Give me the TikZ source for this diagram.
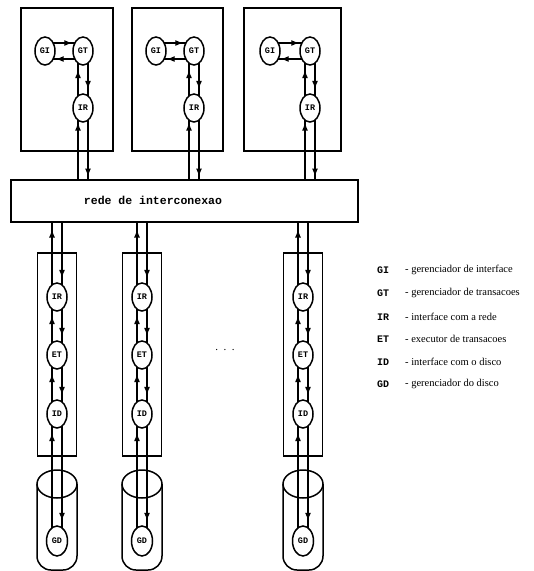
\documentclass[tikz,border=0pt]{standalone}
\usepackage{fontspec}
\setmainfont{Liberation Serif}
\setmonofont{Liberation Mono}
\usetikzlibrary{shapes.geometric,arrows.meta,decorations.markings,calc}

\begin{document}
\begin{tikzpicture}[x=1pt,y=-1pt,
  proc/.style={ellipse,draw,line width=1.5pt,minimum width=20pt,minimum height=28pt,inner sep=0pt,
    font=\ttfamily\bfseries\fontsize{8.5}{8.5}\selectfont},
  disk/.style={proc,minimum width=21pt,minimum height=30pt},
  frame/.style={draw,line width=1.5pt,rectangle,inner sep=0pt},
  link/.style={line width=1.3pt,postaction={decorate},
    decoration={markings,mark=at position -7pt with {\arrow{Latex[length=8pt,width=6pt]}}}},
  hlink/.style={line width=1.3pt,postaction={decorate},
    decoration={markings,mark=at position -2.5pt with {\arrow{Latex[length=8pt,width=6pt]}}}},
  abbr/.style={anchor=west,inner sep=0pt,font=\ttfamily\bfseries\fontsize{10}{10}\selectfont},
  desc/.style={anchor=west,inner sep=0pt,font=\rmfamily\fontsize{10.5}{10.5}\selectfont},
]
\useasboundingbox (0,0) rectangle (534,571);

% network
\node[frame,anchor=north west,minimum width=347pt,minimum height=42pt] (net) at (10,179) {};
\node[inner sep=0pt,font=\ttfamily\bfseries\fontsize{11.5}{12}\selectfont] (nettext) at (153,200) {rede de interconexao};

% top processor boxes
\foreach \l/\w/\gi/\gt [count=\k] in {20/92/45/83, 131/91/156/194, 243/97/270/310} {
  \node[frame,anchor=north west,minimum width=\w pt,minimum height=143pt] (box\k) at (\l,7) {};
  \node[proc] (gi\k) at (\gi,51) {GI};
  \node[proc] (gt\k) at (\gt,51) {GT};
  \node[proc] (ir\k) at (\gt,108) {IR};
  \draw[hlink] ($(gi\k)+(8.2,-8)$) -- ($(gt\k)+(-8.2,-8)$);
  \draw[hlink] ($(gt\k)+(-8.2,8)$) -- ($(gi\k)+(8.2,8)$);
  \draw[link] ($(ir\k)+(-5,-12.1)$) -- ($(gt\k)+(-5,12.1)$);
  \draw[link] ($(gt\k)+(5,12.1)$) -- ($(ir\k)+(5,-12.1)$);
  \coordinate (irl\k) at ($(ir\k)+(-5,12.1)$);
  \coordinate (irr\k) at ($(ir\k)+(5,12.1)$);
  \draw[hlink] (irl\k |- net.north) -- (irl\k);
  \draw[hlink] (irr\k) -- (irr\k |- net.north);
}

% disk columns
\foreach \cx [count=\k] in {57,142,303} {
  \node[frame,anchor=north,minimum width=39pt,minimum height=203pt] (col\k) at (\cx,252) {};
  \node[proc] (cir\k) at (\cx,297) {IR};
  \node[proc] (cet\k) at (\cx,355) {ET};
  \node[proc] (cid\k) at (\cx,414) {ID};
  \node[disk] (cgd\k) at (\cx,541) {GD};
  % cylinder
  \draw[line width=1.5pt,rounded corners=14pt] (\cx-20,484) -- (\cx-20,570) -- (\cx+20,570) -- (\cx+20,484);
  \draw[line width=1.5pt] (\cx,484) ellipse [x radius=20pt,y radius=14pt];
  % links
  \coordinate (cirl\k) at ($(cir\k)+(-5,-12.1)$);
  \coordinate (cirr\k) at ($(cir\k)+(5,-12.1)$);
  \draw[link] (cirl\k) -- (cirl\k |- net.south);
  \draw[link] (cirr\k |- net.south) -- (cirr\k);
  \draw[link] ($(cet\k)+(-5,-12.1)$) -- ($(cir\k)+(-5,12.1)$);
  \draw[link] ($(cir\k)+(5,12.1)$) -- ($(cet\k)+(5,-12.1)$);
  \draw[link] ($(cid\k)+(-5,-12.1)$) -- ($(cet\k)+(-5,12.1)$);
  \draw[link] ($(cet\k)+(5,12.1)$) -- ($(cid\k)+(5,-12.1)$);
  \draw[link] ($(cgd\k)+(-5,-13.2)$) -- ($(cid\k)+(-5,12.1)$);
  \draw[link] ($(cid\k)+(5,12.1)$) -- ($(cgd\k)+(5,-13.2)$);
}

\node[inner sep=0pt,font=\rmfamily\fontsize{11}{11}\selectfont] (dots) at (225,350) {.\ \ .\ \ .};

% legend
\foreach \ab/\de/\y in {GI/gerenciador de interface/270, GT/gerenciador de transacoes/293,
  IR/interface com a rede/317, ET/executor de transacoes/339, ID/interface com o disco/362,
  GD/gerenciador do disco/384} {
  \node[abbr] (ab\ab) at (377,\y) {\ab};
  \node[desc] (de\ab) at (405,\y) {- \de};
}
\end{tikzpicture}
\end{document}
